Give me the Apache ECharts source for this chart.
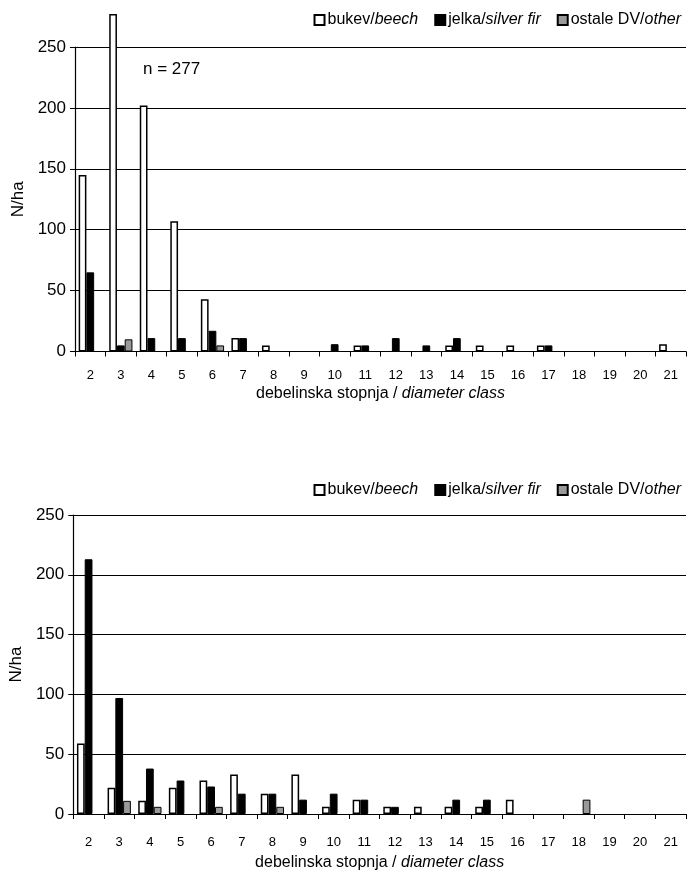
<!DOCTYPE html>
<html>
<head>
<meta charset="utf-8">
<script src="https://cdn.jsdelivr.net/npm/echarts@6/dist/echarts.min.js"></script>
<style>
  html, body { margin: 0; padding: 0; background: #fff; }
  #chart { width: 689px; height: 875px; }
</style>
</head>
<body>
<div id="chart"></div>
<script>
// Diameter classes (shared by both panels)
const diameterClasses = ['2','3','4','5','6','7','8','9','10','11','12','13','14','15','16','17','18','19','20','21'];

// Upper panel: N/ha per diameter class
const beechTop = [145, 277, 202, 107, 43, 11, 5, 0, 0, 5, 0, 0, 5, 5, 5, 5, 0, 0, 0, 6];
const firTop   = [65, 5, 11, 11, 17, 11, 0, 0, 6, 5, 11, 5, 11, 0, 0, 5, 0, 0, 0, 0];
const otherTop = [0, 10, 0, 0, 5, 0, 0, 0, 0, 0, 0, 0, 0, 0, 0, 0, 0, 0, 0, 0];

// Lower panel: N/ha per diameter class
const beechBottom = [59, 22, 11, 22, 28, 33, 17, 33, 6, 12, 6, 6, 6, 6, 12, 0, 0, 0, 0, 0];
const firBottom   = [213, 97, 38, 28, 23, 17, 17, 12, 17, 12, 6, 0, 12, 12, 0, 0, 0, 0, 0, 0];
const otherBottom = [0, 11, 6, 0, 6, 0, 6, 0, 0, 0, 0, 0, 0, 0, 0, 0, 12, 0, 0, 0];

const yTicks = { min: 0, max: 250, interval: 50 };
const speciesNames = ['bukev/beech', 'jelka/silver fir', 'ostale DV/other'];
const sampleSize = beechTop[1];

const FONT = '"Liberation Sans", Arial, sans-serif';

const styles = [
  { color: '#ffffff', borderColor: '#000', borderWidth: 1.5 },
  { color: '#000000', borderColor: '#000', borderWidth: 1 },
  { color: '#9a9a9a', borderColor: '#000', borderWidth: 1 }
];

function legendFor(top) {
  return {
    top: top, right: 3,
    icon: 'rect',
    itemWidth: 10, itemHeight: 10, itemGap: 16,
    data: speciesNames,
    formatter: function (name) {
      const i = name.indexOf('/');
      return '{n|' + name.slice(0, i + 1) + '}{e|' + name.slice(i + 1) + '}';
    },
    textStyle: {
      padding: [0, 0, 0, -2],
      rich: {
        n: { fontFamily: FONT, fontSize: 16, color: '#000' },
        e: { fontFamily: FONT, fontSize: 16, fontStyle: 'italic', color: '#000' }
      }
    }
  };
}

function xAxisFor(gridIndex, labelMargin, nameGap) {
  return {
    type: 'category', gridIndex: gridIndex, data: diameterClasses,
    axisLine: { lineStyle: { color: '#000', width: 1.2 } },
    axisTick: { show: true, length: 5, lineStyle: { color: '#000' } },
    axisLabel: { color: '#000', fontFamily: FONT, fontSize: 13, margin: labelMargin, interval: 0 },
    name: '{a|debelinska stopnja / }{b|diameter class}',
    nameLocation: 'middle', nameGap: nameGap,
    nameTextStyle: {
      rich: {
        a: { fontFamily: FONT, fontSize: 16, color: '#000' },
        b: { fontFamily: FONT, fontSize: 16, fontStyle: 'italic', color: '#000' }
      }
    }
  };
}

function yAxisFor(gridIndex) {
  return {
    type: 'value', gridIndex: gridIndex,
    min: yTicks.min, max: yTicks.max, interval: yTicks.interval,
    axisLine: { show: true, lineStyle: { color: '#000', width: 1.2 } },
    axisTick: { show: true, length: 5, lineStyle: { color: '#000' } },
    axisLabel: { color: '#000', fontFamily: FONT, fontSize: 17, margin: 9 },
    splitLine: { show: true, lineStyle: { color: '#000', width: 1.2 } },
    name: 'N/ha', nameLocation: 'middle', nameGap: 39, nameRotate: 90,
    nameTextStyle: { fontFamily: FONT, fontSize: 17, color: '#000' }
  };
}

// Empty classes are left without a bar
function barSeries(name, data, idx, axisIndex, clip) {
  return {
    type: 'bar', name: name,
    data: data.map(function (v) { return v === 0 ? '-' : v; }),
    xAxisIndex: axisIndex, yAxisIndex: axisIndex,
    barCategoryGap: '24%', barGap: '0%',
    itemStyle: styles[idx],
    clip: clip,
    animation: false
  };
}

const chart = echarts.init(document.getElementById('chart'), null, { renderer: 'canvas' });
chart.setOption({
  backgroundColor: '#fff',
  aria: { enabled: false },
  animation: false,
  legend: [legendFor(7), legendFor(477)],
  grid: [
    { left: 75, top: 47, width: 611, height: 304.5 },
    { left: 71, top: 515, width: 615, height: 299 }
  ],
  xAxis: [xAxisFor(0, 17, 34), xAxisFor(1, 22, 41)],
  yAxis: [yAxisFor(0), yAxisFor(1)],
  graphic: [{
    type: 'text', left: 143, top: 61,
    style: { text: 'n = ' + sampleSize, font: '17px ' + FONT, fill: '#000' }
  }],
  series: [
    barSeries(speciesNames[0], beechTop, 0, 0, false),
    barSeries(speciesNames[1], firTop, 1, 0, true),
    barSeries(speciesNames[2], otherTop, 2, 0, true),
    barSeries(speciesNames[0], beechBottom, 0, 1, true),
    barSeries(speciesNames[1], firBottom, 1, 1, true),
    barSeries(speciesNames[2], otherBottom, 2, 1, true)
  ]
});
</script>
</body>
</html>
